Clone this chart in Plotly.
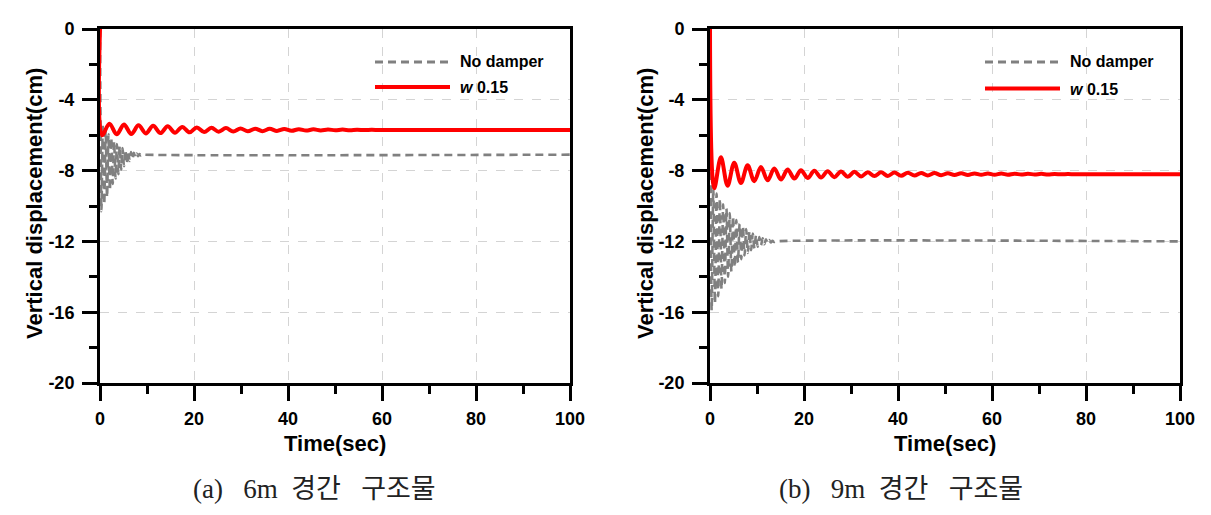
import plotly.graph_objects as go

# ---------------- data ----------------
# (a) 6m span structure
time_6m_nodamper = [0, 0.3, 0.6, 0.9, 1.2, 1.5, 1.8, 2.1, 2.4, 2.7, 3.0, 3.3, 3.6, 3.9, 4.2, 4.5,
                    4.8, 5.1, 5.4, 5.7, 6.0, 6.3, 6.6, 6.9, 7.2, 7.5, 7.8, 8.1, 8.4, 8.7, 9.0, 9.5, 100]
disp_6m_nodamper = [0, -10.3, -5.4, -9.9, -5.7, -9.5, -5.95, -9.1, -6.15, -8.75, -6.35, -8.45, -6.5,
                    -8.2, -6.62, -7.95, -6.73, -7.75, -6.82, -7.6, -6.9, -7.45, -6.95, -7.35, -7.0,
                    -7.25, -7.03, -7.18, -7.06, -7.14, -7.08, -7.1, -7.1]

time_6m_w015 = [0, 0.45, 2.0, 3.55, 5.1, 6.65, 8.2, 9.75, 11.3, 12.85, 14.4, 15.95, 17.5, 19.05,
                20.6, 22.15, 23.7, 25.25, 26.8, 28.35, 29.9, 31.45, 33.0, 34.55, 36.1, 37.65, 39.2,
                40.75, 42.3, 43.85, 45.4, 46.95, 48.5, 50.05, 51.6, 53.15, 54.7, 56.25, 57.8, 59.35,
                60.9, 100]
disp_6m_w015 = [0, -6.0, -5.35, -5.95, -5.4, -5.93, -5.44, -5.9, -5.47, -5.88, -5.5, -5.86, -5.53,
                -5.84, -5.56, -5.82, -5.58, -5.8, -5.6, -5.79, -5.62, -5.78, -5.63, -5.77, -5.64,
                -5.76, -5.65, -5.75, -5.66, -5.74, -5.67, -5.73, -5.68, -5.72, -5.685, -5.715,
                -5.69, -5.71, -5.695, -5.705, -5.7, -5.7]

# (b) 9m span structure
time_9m_nodamper = [0, 0.35, 0.7, 1.05, 1.4, 1.75, 2.1, 2.45, 2.8, 3.15, 3.5, 3.85, 4.2, 4.55, 4.9,
                    5.25, 5.6, 5.95, 6.3, 6.65, 7.0, 7.35, 7.7, 8.05, 8.4, 8.75, 9.1, 9.45, 9.8,
                    10.15, 10.5, 10.85, 11.2, 11.55, 11.9, 12.25, 12.6, 12.95, 13.3, 13.65, 14, 100]
disp_9m_nodamper = [0, -15.9, -9.0, -15.5, -9.3, -15.1, -9.6, -14.7, -9.9, -14.35, -10.15, -14.0,
                    -10.4, -13.7, -10.6, -13.45, -10.8, -13.2, -11.0, -13.0, -11.15, -12.8, -11.3,
                    -12.65, -11.42, -12.5, -11.55, -12.4, -11.65, -12.3, -11.75, -12.22, -11.82,
                    -12.16, -11.88, -12.1, -11.93, -12.06, -11.97, -12.03, -12.0, -12.0]

time_9m_w015 = [0, 0.9, 2.32, 3.74, 5.16, 6.58, 8.0, 9.42, 10.84, 12.26, 13.68, 15.1, 16.52, 17.94,
                19.36, 20.78, 22.2, 23.62, 25.04, 26.46, 27.88, 29.3, 30.72, 32.14, 33.56, 34.98,
                36.4, 37.82, 39.24, 40.66, 42.08, 43.5, 44.92, 46.34, 47.76, 49.18, 50.6, 52.02,
                53.44, 54.86, 56.28, 57.7, 59.12, 60.54, 61.96, 63.38, 64.8, 66.22, 67.64, 69.06,
                70.48, 71.9, 73.32, 74.74, 76.16, 77.58, 79.0, 100]
disp_9m_w015 = [0, -9.0, -7.25, -8.85, -7.55, -8.7, -7.7, -8.6, -7.8, -8.55, -7.88, -8.5, -7.94,
                -8.45, -7.98, -8.42, -8.01, -8.39, -8.03, -8.37, -8.05, -8.35, -8.07, -8.33, -8.09,
                -8.31, -8.1, -8.3, -8.11, -8.29, -8.12, -8.28, -8.13, -8.27, -8.14, -8.26, -8.15,
                -8.25, -8.155, -8.245, -8.16, -8.24, -8.165, -8.235, -8.17, -8.23, -8.175, -8.225,
                -8.18, -8.22, -8.185, -8.215, -8.19, -8.21, -8.195, -8.205, -8.2, -8.2]

series_names = ["No damper", "w 0.15"]
legend_labels = ["<b>No damper</b>", "<b><i>w</i> 0.15</b>"]
captions = ["(a)&nbsp;&nbsp;&nbsp;6m&nbsp;&nbsp;경간&nbsp;&nbsp;&nbsp;구조물",
            "(b)&nbsp;&nbsp;&nbsp;9m&nbsp;&nbsp;경간&nbsp;&nbsp;&nbsp;구조물"]
x_title = "Time(sec)"
y_title = "Vertical displacement(cm)"
x_ticks = [0, 20, 40, 60, 80, 100]
x_ticktext = ["0", "20", "40", "60", "80", "100"]
y_ticks = [0, -4, -8, -12, -16, -20]
y_ticktext = ["0", "-4", "-8", "-12", "-16", "-20"]

# ---------------- styling ----------------
W, H = 1211, 515
OFF = 8  # page body margin offset
GRAY = "#808080"
RED = "#ff0000"
FONT = "Arial, 'Liberation Sans', sans-serif"


def px(x):
    return (x - OFF) / W


def py(y):
    return 1 - (y - OFF) / H


fig = go.Figure()

panels = [
    (time_6m_nodamper, disp_6m_nodamper, time_6m_w015, disp_6m_w015, "x", "y"),
    (time_9m_nodamper, disp_9m_nodamper, time_9m_w015, disp_9m_w015, "x2", "y2"),
]
for tn, dn, tw, dw, xa, ya in panels:
    fig.add_trace(go.Scatter(x=tn, y=dn, mode="lines", name=series_names[0], xaxis=xa, yaxis=ya,
                             line=dict(color=GRAY, width=2.6, dash="8px,5px", shape="spline", smoothing=0.8),
                             showlegend=False))
    fig.add_trace(go.Scatter(x=tw, y=dw, mode="lines", name=series_names[1], xaxis=xa, yaxis=ya,
                             line=dict(color=RED, width=4, shape="spline", smoothing=1.0),
                             showlegend=False))

domains_x = [[px(100), px(570)], [px(710), px(1180)]]
ydom = [py(383), py(29)]

axis_common = dict(
    showline=True, linecolor="black", linewidth=3, mirror=True,
    ticks="outside", ticklen=15, tickwidth=3, tickcolor="black",
    showgrid=True, gridcolor="#d4d4d4", gridwidth=1, griddash="dash",
    zeroline=False, layer="below traces", automargin=False,
    tickfont=dict(family=FONT, size=18, color="black", weight="bold"),
)

layout_axes = {}
for i, (xd) in enumerate(domains_x):
    xname = "xaxis" if i == 0 else "xaxis2"
    yname = "yaxis" if i == 0 else "yaxis2"
    yref = "y" if i == 0 else "y2"
    xref = "x" if i == 0 else "x2"
    layout_axes[xname] = dict(axis_common, domain=xd, range=[0, 100], tickvals=x_ticks,
                              ticktext=x_ticktext, anchor=yref, ticklabelstandoff=2,
                              minor=dict(dtick=10, ticks="outside", ticklen=8, tickwidth=3,
                                         tickcolor="black", showgrid=False))
    layout_axes[yname] = dict(axis_common, domain=ydom, range=[-20, 0], tickvals=y_ticks,
                              ticktext=y_ticktext, anchor=xref, ticklabelstandoff=4,
                              minor=dict(dtick=2, ticks="outside", ticklen=8, tickwidth=3,
                                         tickcolor="black", showgrid=False))

annotations = []
shapes = []
# axis titles and captions
for cx, ylab_x, cap_x, cap in [(335, 35, 314, captions[0]), (945, 646, 901, captions[1])]:
    annotations.append(dict(x=px(cx), y=py(443), xref="paper", yref="paper", text="<b>%s</b>" % x_title,
                            showarrow=False, xanchor="center", yanchor="middle",
                            font=dict(family=FONT, size=22, color="black")))
    annotations.append(dict(x=px(ylab_x), y=py(204), xref="paper", yref="paper", text="<b>%s</b>" % y_title,
                            showarrow=False, xanchor="center", yanchor="middle", textangle=-90,
                            font=dict(family=FONT, size=22, color="black")))
    annotations.append(dict(x=px(cap_x), y=py(489), xref="paper", yref="paper", text=cap,
                            showarrow=False, xanchor="center", yanchor="middle",
                            font=dict(family="'Liberation Serif', 'Noto Sans CJK KR', serif", size=27,
                                      color="#222222")))

# legends (drawn manually to match the long line samples)
for lx0, lx1, tx, y1, y2 in [(375, 450, 458, 62, 87), (985, 1060, 1068, 62, 88.5)]:
    shapes.append(dict(type="line", xref="paper", yref="paper", x0=px(lx0), x1=px(lx1), y0=py(y1), y1=py(y1),
                       line=dict(color=GRAY, width=3, dash="8px,5px")))
    shapes.append(dict(type="line", xref="paper", yref="paper", x0=px(lx0), x1=px(lx1), y0=py(y2), y1=py(y2),
                       line=dict(color=RED, width=4)))
    annotations.append(dict(x=px(tx), y=py(y1), xref="paper", yref="paper", text=legend_labels[0],
                            showarrow=False, xanchor="left", yanchor="middle",
                            font=dict(family=FONT, size=16, color="black")))
    annotations.append(dict(x=px(tx), y=py(y2 + 1), xref="paper", yref="paper", text=legend_labels[1],
                            showarrow=False, xanchor="left", yanchor="middle",
                            font=dict(family=FONT, size=16, color="black")))

fig.update_layout(
    width=W, height=H,
    margin=dict(l=0, r=0, t=0, b=0, autoexpand=False),
    paper_bgcolor="white", plot_bgcolor="white",
    showlegend=False,
    annotations=annotations,
    shapes=shapes,
    **layout_axes,
)

fig.write_html("out.html")
